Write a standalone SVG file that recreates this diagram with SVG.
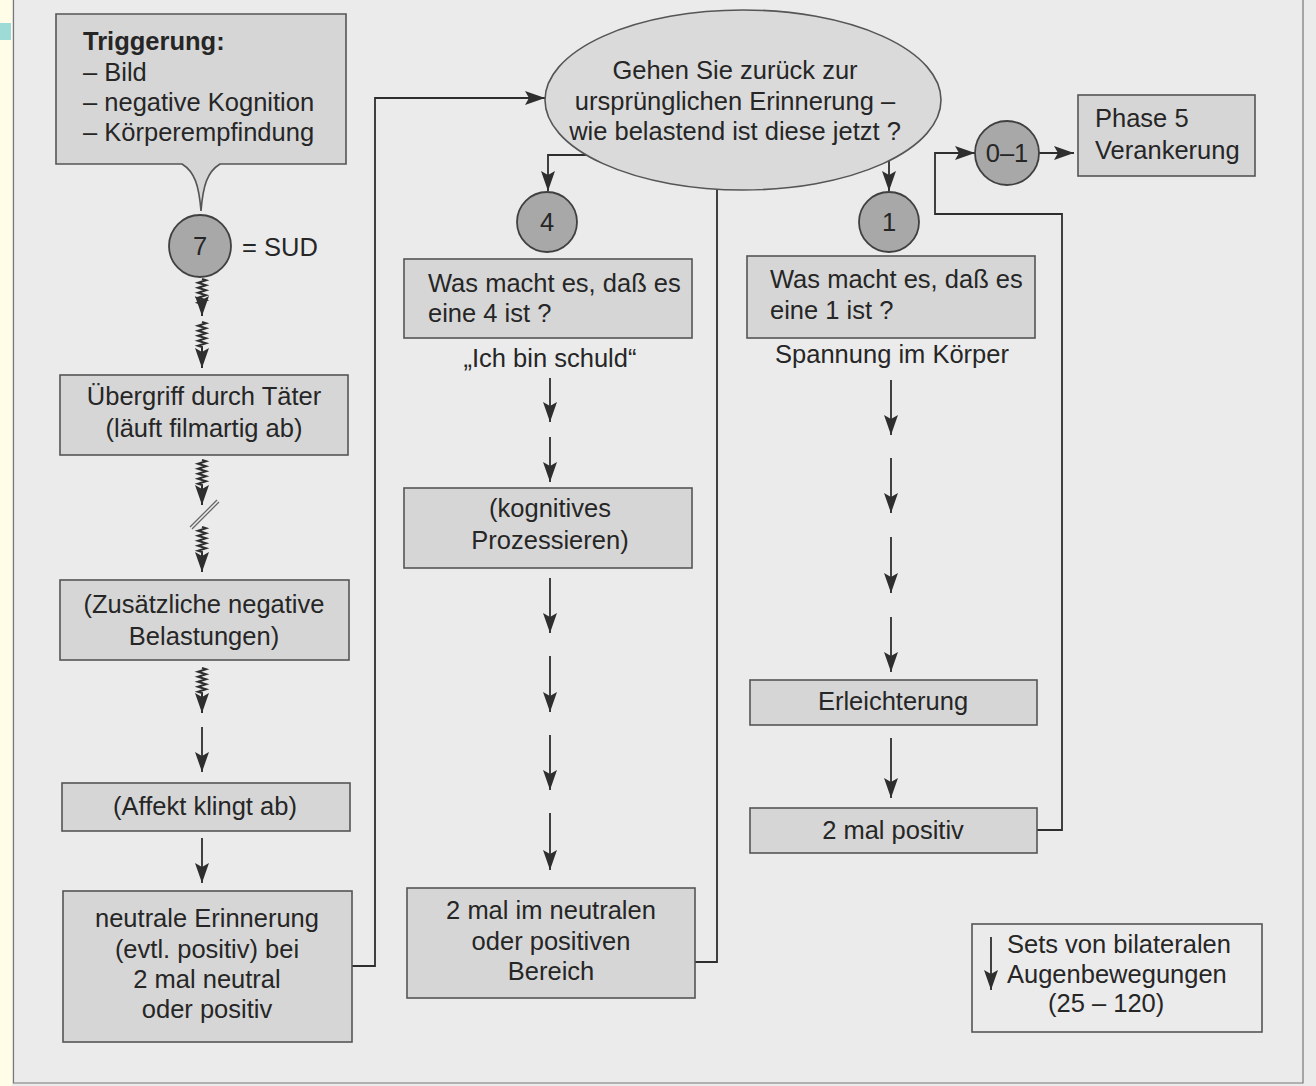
<svg xmlns="http://www.w3.org/2000/svg" width="1316" height="1086" viewBox="0 0 1316 1086">
<style>
.box{fill:#d6d6d6;stroke:#555;stroke-width:1.6}
.open{fill:none;stroke:#555;stroke-width:1.6}
.circ{fill:#a8a8a8;stroke:#404040;stroke-width:1.8}
.ell{fill:#dadada;stroke:#555;stroke-width:1.6}
.t{font-family:"Liberation Sans",Arial,sans-serif;font-size:25.5px;fill:#262626}
.b{font-weight:bold}
.c{text-anchor:middle}
.ln{fill:none;stroke:#2e2e2e;stroke-width:1.8}
.zz{fill:none;stroke:#2e2e2e;stroke-width:2}
.ar{marker-end:url(#ah)}
.brd{stroke:#777;stroke-width:1.2;fill:none}
</style>
<defs>
<marker id="ah" markerUnits="userSpaceOnUse" markerWidth="20" markerHeight="14" refX="20" refY="7" orient="auto">
<path d="M0,0 L20,7 L0,14 L4,7 Z" fill="#2e2e2e"/>
</marker>
</defs>
<!-- page background -->
<rect x="0" y="0" width="1316" height="1086" fill="#ebebeb"/>
<rect x="0" y="0" width="12" height="1086" fill="#fffde8"/>
<rect x="0" y="23" width="11" height="17" fill="#9ddcd6"/>
<path class="brd" d="M13.5,0 V1083 H1303 V0"/>

<g id="connectors">
<!-- left column zigzag arrows -->
<path class="zz ar" d="M202,279 l4,1.25 l-8,2.5 l8,2.5 l-8,2.5 l8,2.5 l-8,2.5 l8,2.5 l-8,2.5 l8,2.5 l-8,2.5 l4,1.25 L202,316"/>
<path class="zz ar" d="M202,322 l4,1.25 l-8,2.5 l8,2.5 l-8,2.5 l8,2.5 l-8,2.5 l8,2.5 l-8,2.5 l8,2.5 l-8,2.5 l4,1.25 L202,368"/>
<path class="zz ar" d="M202,460 l4,1.25 l-8,2.5 l8,2.5 l-8,2.5 l8,2.5 l-8,2.5 l8,2.5 l-8,2.5 l8,2.5 l-8,2.5 l4,1.25 L202,505"/>
<path d="M190,527 L217,500 M192,529 L219,502" stroke="#666" stroke-width="1.3" fill="none"/>
<path class="zz ar" d="M202,527 l4,1.25 l-8,2.5 l8,2.5 l-8,2.5 l8,2.5 l-8,2.5 l8,2.5 l-8,2.5 l8,2.5 l-8,2.5 l4,1.25 L202,572"/>
<path class="zz ar" d="M202,668 l4,1.25 l-8,2.5 l8,2.5 l-8,2.5 l8,2.5 l-8,2.5 l8,2.5 l-8,2.5 l8,2.5 l-8,2.5 l4,1.25 L202,713"/>
<path class="ln ar" d="M202,727 V772"/>
<path class="ln ar" d="M202,838 V883"/>
<!-- loop back from neutral memory to ellipse -->
<path class="ln ar" d="M352,966 H375 V98 H545"/>
<!-- ellipse to 4 -->
<path class="ln ar" d="M587,155 H548 V191"/>
<!-- loop from 2 mal neutralen up to 1 -->
<path class="ln ar" d="M695,962 H717 V155 H889 V191"/>
<!-- middle column arrows -->
<path class="ln ar" d="M550,378 V422"/>
<path class="ln ar" d="M550,437 V482"/>
<path class="ln ar" d="M550,578 V633"/>
<path class="ln ar" d="M550,656 V712"/>
<path class="ln ar" d="M550,735 V790"/>
<path class="ln ar" d="M550,813 V870"/>
<!-- right column arrows -->
<path class="ln ar" d="M891,380 V435"/>
<path class="ln ar" d="M891,458 V513"/>
<path class="ln ar" d="M891,537 V593"/>
<path class="ln ar" d="M891,617 V672"/>
<path class="ln ar" d="M891,738 V798"/>
<!-- 2 mal positiv to 0-1 -->
<path class="ln ar" d="M1037,830 H1062 V214 H935 V153 H975"/>
<path class="ln ar" d="M1039,153 H1074"/>
<!-- legend arrow -->
<path class="ln ar" d="M991,937 V990"/>
</g>

<g id="n-trigger">
<path class="box" d="M56,14 H346 V164 H220 C207,172 203,186 201,211 C199,186 195,172 182,164 H56 Z"/>
<text class="t b" x="83" y="50">Triggerung:</text>
<text class="t" x="83" y="81">– Bild</text>
<text class="t" x="83" y="111">– negative Kognition</text>
<text class="t" x="83" y="141">– Körperempfindung</text>
</g>

<g id="n-sud7">
<circle class="circ" cx="200" cy="246" r="31"/>
<text class="t c" x="200" y="255">7</text>
<text class="t" x="242" y="256">= SUD</text>
</g>

<g id="n-uebergriff">
<rect class="box" x="60" y="375" width="288" height="80"/>
<text class="t c" x="204" y="405">Übergriff durch Täter</text>
<text class="t c" x="204" y="437">(läuft filmartig ab)</text>
</g>

<g id="n-zusaetzlich">
<rect class="box" x="60" y="580" width="289" height="80"/>
<text class="t c" x="204" y="613">(Zusätzliche negative</text>
<text class="t c" x="204" y="645">Belastungen)</text>
</g>

<g id="n-affekt">
<rect class="box" x="62" y="783" width="288" height="48"/>
<text class="t c" x="205" y="815">(Affekt klingt ab)</text>
</g>

<g id="n-neutral">
<rect class="box" x="63" y="891" width="289" height="151"/>
<text class="t c" x="207" y="927">neutrale Erinnerung</text>
<text class="t c" x="207" y="958">(evtl. positiv) bei</text>
<text class="t c" x="207" y="988">2 mal neutral</text>
<text class="t c" x="207" y="1018">oder positiv</text>
</g>

<g id="n-frage">
<ellipse class="ell" cx="743" cy="100" rx="198" ry="90"/>
<text class="t c" x="735" y="79">Gehen Sie zurück zur</text>
<text class="t c" x="735" y="110">ursprünglichen Erinnerung –</text>
<text class="t c" x="735" y="140">wie belastend ist diese jetzt ?</text>
</g>

<g id="n-sud4">
<circle class="circ" cx="547" cy="222" r="30"/>
<text class="t c" x="547" y="231">4</text>
</g>

<g id="n-sud1">
<circle class="circ" cx="889" cy="222" r="30"/>
<text class="t c" x="889" y="231">1</text>
</g>

<g id="n-sud01">
<circle class="circ" cx="1007" cy="153" r="32"/>
<text class="t c" x="1007" y="162">0–1</text>
</g>

<g id="n-phase5">
<rect class="box" x="1078" y="95" width="177" height="81"/>
<text class="t" x="1095" y="127">Phase 5</text>
<text class="t" x="1095" y="159">Verankerung</text>
</g>

<g id="n-frage4">
<rect class="box" x="404" y="259" width="288" height="79"/>
<text class="t" x="428" y="292">Was macht es, daß es</text>
<text class="t" x="428" y="322">eine 4 ist ?</text>
<text class="t c" x="550" y="367">„Ich bin schuld“</text>
</g>

<g id="n-kognitiv">
<rect class="box" x="404" y="488" width="288" height="80"/>
<text class="t c" x="550" y="517">(kognitives</text>
<text class="t c" x="550" y="549">Prozessieren)</text>
</g>

<g id="n-2neutral">
<rect class="box" x="407" y="888" width="288" height="110"/>
<text class="t c" x="551" y="919">2 mal im neutralen</text>
<text class="t c" x="551" y="950">oder positiven</text>
<text class="t c" x="551" y="980">Bereich</text>
</g>

<g id="n-frage1">
<rect class="box" x="747" y="256" width="288" height="82"/>
<text class="t" x="770" y="288">Was macht es, daß es</text>
<text class="t" x="770" y="319">eine 1 ist ?</text>
<text class="t c" x="892" y="363">Spannung im Körper</text>
</g>

<g id="n-erleichterung">
<rect class="box" x="750" y="680" width="287" height="45"/>
<text class="t c" x="893" y="710">Erleichterung</text>
</g>

<g id="n-2positiv">
<rect class="box" x="750" y="808" width="287" height="45"/>
<text class="t c" x="893" y="839">2 mal positiv</text>
</g>

<g id="n-legende">
<rect class="open" x="972" y="924" width="290" height="108"/>
<text class="t" x="1007" y="953">Sets von bilateralen</text>
<text class="t" x="1007" y="983">Augenbewegungen</text>
<text class="t" x="1048" y="1012">(25 – 120)</text>
</g>
</svg>
